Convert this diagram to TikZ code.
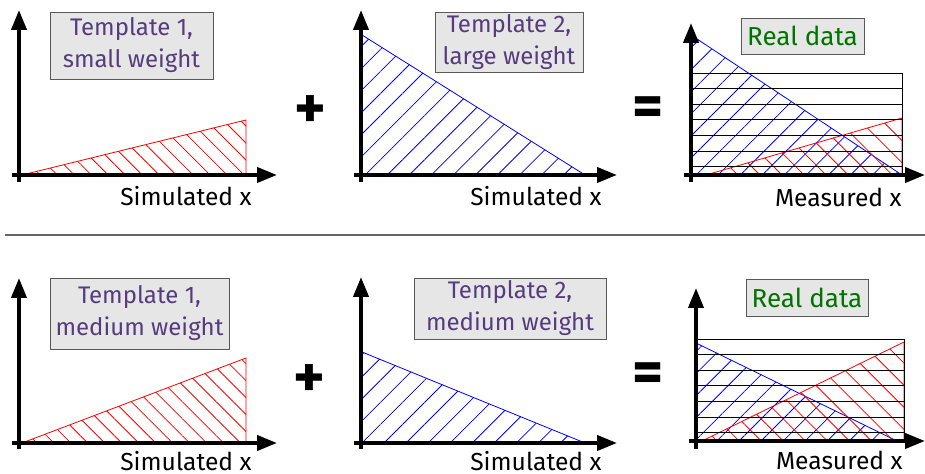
\documentclass[tikz,border=0pt]{standalone}
\usepackage{fontspec}
\setmainfont{Fira Sans}
\usepackage{tikz}
\usetikzlibrary{arrows.meta, patterns.meta}

\definecolor{tplpurple}{RGB}{85,60,125}
\definecolor{datagreen}{RGB}{0,115,0}
\definecolor{boxgray}{RGB}{230,230,230}

\tikzset{
  axis/.style={line width=2pt, -{Triangle[length=10pt,width=7.5pt]}},
  tpl/.style={draw=black!65, fill=boxgray, text=tplpurple, align=center, inner sep=0pt,
              font=\fontsize{12}{16}\selectfont},
  datalbl/.style={tpl, text=datagreen, font=\fontsize{13}{15}\selectfont},
  xlbl/.style={anchor=east, inner sep=0pt, font=\fontsize{12.3}{14}\selectfont},
  opsign/.style={font=\bfseries\fontsize{30}{30}\selectfont},
  redfine/.style={draw=red, line width=0.4pt, pattern color=red,
                  pattern={Lines[angle=-45,distance=6pt,line width=0.4pt]}},
  bluewide/.style={draw=blue, line width=0.4pt, pattern color=blue,
                   pattern={Lines[angle=45,distance=7.8pt,line width=0.4pt]}},
  redwide/.style={draw=red, line width=0.4pt, pattern color=red,
                  pattern={Lines[angle=-45,distance=7.8pt,line width=0.4pt]}},
  datarow/.style={line width=0.45pt, draw=black}
}

\begin{document}
\begin{tikzpicture}[x=0.5pt, y=-0.5pt]
  \useasboundingbox (0,0) rectangle (925,474);

  % top row
  \draw[redfine] (22,175) -- (246,175) -- (246,120) -- cycle;
  \draw[axis] (19,182) -- (19,10);
  \draw[axis] (12,175) -- (277,175);
  \node[tpl, minimum width=81.5pt, minimum height=33.5pt] (t1a) at (131.5,45.5) {Template 1,\\small weight};
  \node[xlbl] (x1a) at (252,196) {Simulated x};

  \node[opsign] (plusa) at (310,112) {+};

  \draw[bluewide] (362,35) -- (362,175) -- (585,175) -- cycle;
  \draw[axis] (361,182) -- (361,10);
  \draw[axis] (354,175) -- (617,175);
  \node[tpl, minimum width=74pt, minimum height=30pt] (t2a) at (509,42) {Template 2,\\large weight};
  \node[xlbl] (x2a) at (602,196) {Simulated x};

  \node[opsign] (eqa) at (648,112) {=};

  \draw[bluewide] (691,35) -- (691,175) -- (902,175) -- cycle;
  \draw[redwide] (706,175) -- (902,175) -- (902,118) -- cycle;
  \draw[datarow] (691,73) rectangle (902,175);
  \foreach \k in {1,...,6}
    \draw[datarow] (691,{73+15.6*\k}) -- (902,{73+15.6*\k});
  \draw[axis] (691,182) -- (691,23);
  \draw[axis] (684,175) -- (925,175);
  \node[datalbl, minimum width=61.5pt, minimum height=18pt] (da) at (802.5,36) {Real data};
  \node[xlbl] (ma) at (902,197) {Measured x};

  % separator
  \draw[black!60, line width=0.75pt] (5,235) -- (925,235);

  % bottom row
  \draw[redfine] (22,443) -- (246,443) -- (246,358) -- cycle;
  \draw[axis] (19,449) -- (19,278);
  \draw[axis] (12,443) -- (277,443);
  \node[tpl, minimum width=89.5pt, minimum height=35.5pt] (t1b) at (139.5,313.5) {Template 1,\\medium weight};
  \node[xlbl] (x1b) at (252,461) {Simulated x};

  \node[opsign] (plusb) at (309,381) {+};

  \draw[bluewide] (362,352) -- (362,443) -- (585,443) -- cycle;
  \draw[axis] (361,449) -- (361,277);
  \draw[axis] (354,443) -- (617,443);
  \node[tpl, minimum width=96pt, minimum height=30.5pt] (t2b) at (510,308.5) {Template 2,\\medium weight};
  \node[xlbl] (x2b) at (602,461) {Simulated x};

  \node[opsign] (eqb) at (648,378) {=};

  \draw[bluewide] (696,343) -- (696,441) -- (897,441) -- cycle;
  \draw[redwide] (702,441) -- (904,441) -- (904,342) -- cycle;
  \draw[datarow] (696,339) rectangle (904,441);
  \foreach \k in {1,...,6}
    \draw[datarow] (696,{339+15.6*\k}) -- (904,{339+15.6*\k});
  \draw[axis] (696,449) -- (696,288);
  \draw[axis] (689,441) -- (925,441);
  \node[datalbl, minimum width=61pt, minimum height=18.5pt] (db) at (807,297.5) {Real data};
  \node[xlbl] (mb) at (903,460) {Measured x};
\end{tikzpicture}
\end{document}
